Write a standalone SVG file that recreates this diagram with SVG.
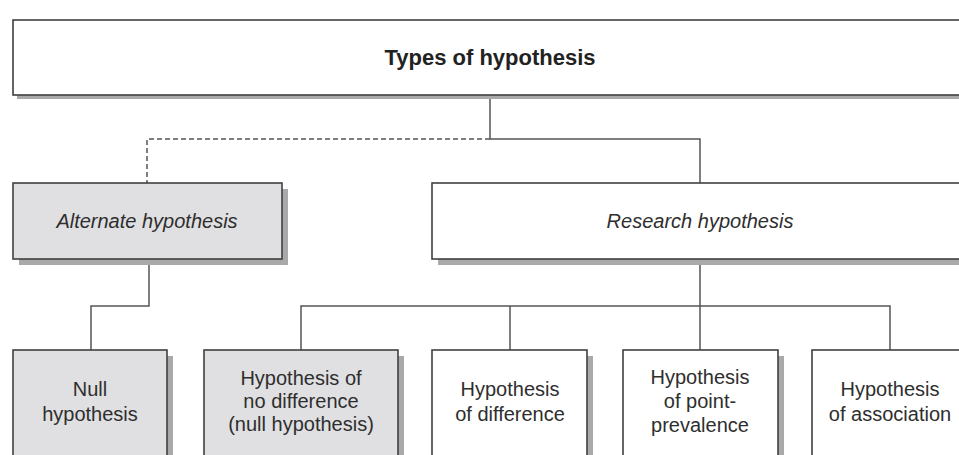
<svg xmlns="http://www.w3.org/2000/svg" width="959" height="455" viewBox="0 0 959 455">
<style>
.bg{fill:#ffffff}
.box{fill:#ffffff;stroke:#404040;stroke-width:1.6}
.grey{fill:#e0e0e2;stroke:#404040;stroke-width:1.6}
.sh{fill:#a9a9a9}
.t{font-family:"Liberation Sans",Arial,sans-serif;font-size:20px;fill:#2e2e2e;text-anchor:middle}
.it{font-style:italic}
.title{font-weight:bold;font-size:22px;fill:#222}
.ln{fill:none;stroke:#555;stroke-width:1.5}
.dash{stroke-dasharray:5 3}
</style>
<rect class="bg" x="0" y="0" width="959" height="455"/>
<g id="connectors">
<path class="ln" d="M490 95 V139 H700 V183"/>
<path class="ln dash" d="M490 139 H147 V183"/>
<path class="ln" d="M149 259 V306 H91 V350"/>
<path class="ln" d="M700 259 V350"/>
<path class="ln" d="M301 350 V306 H890 V350"/>
<path class="ln" d="M510 306 V350"/>
</g>
<g id="types">
<rect class="sh" x="17" y="24" width="955" height="75"/>
<rect class="box" x="13" y="20" width="955" height="75"/>
<text class="t title" x="490" y="65">Types of hypothesis</text>
</g>
<g id="alternate">
<rect class="sh" x="19" y="189" width="269" height="76"/>
<rect class="grey" x="13" y="183" width="269" height="76"/>
<text class="t it" x="147" y="228">Alternate hypothesis</text>
</g>
<g id="research">
<rect class="sh" x="438" y="189" width="536" height="76"/>
<rect class="box" x="432" y="183" width="536" height="76"/>
<text class="t it" x="700" y="228">Research hypothesis</text>
</g>
<g id="null">
<rect class="sh" x="19" y="356" width="154" height="120"/>
<rect class="grey" x="13" y="350" width="154" height="120"/>
<text class="t" x="90" y="396">Null</text>
<text class="t" x="90" y="421">hypothesis</text>
</g>
<g id="nodiff">
<rect class="sh" x="210" y="356" width="194" height="120"/>
<rect class="grey" x="204" y="350" width="194" height="120"/>
<text class="t" x="301" y="385">Hypothesis of</text>
<text class="t" x="301" y="408">no difference</text>
<text class="t" x="301" y="431">(null hypothesis)</text>
</g>
<g id="difference">
<rect class="sh" x="438" y="356" width="155" height="120"/>
<rect class="box" x="432" y="350" width="155" height="120"/>
<text class="t" x="510" y="396">Hypothesis</text>
<text class="t" x="510" y="421">of difference</text>
</g>
<g id="pointprev">
<rect class="sh" x="629" y="356" width="155" height="120"/>
<rect class="box" x="623" y="350" width="155" height="120"/>
<text class="t" x="700" y="384">Hypothesis</text>
<text class="t" x="700" y="408">of point-</text>
<text class="t" x="700" y="432">prevalence</text>
</g>
<g id="association">
<rect class="sh" x="818" y="356" width="156" height="120"/>
<rect class="box" x="812" y="350" width="156" height="120"/>
<text class="t" x="890" y="396">Hypothesis</text>
<text class="t" x="890" y="421">of association</text>
</g>
</svg>
